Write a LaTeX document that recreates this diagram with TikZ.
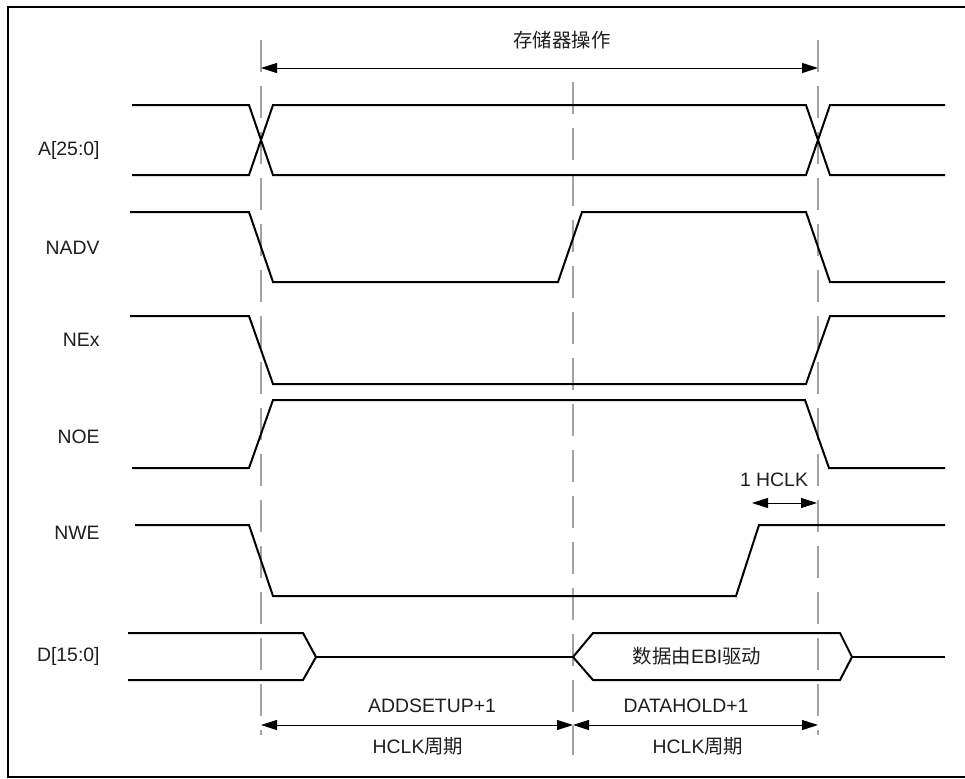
\documentclass[tikz,border=0pt]{standalone}
\usepackage{fontspec}
\setmainfont{Liberation Sans}
\newfontfamily\cjkfont{Noto Sans CJK SC}
\usepackage{tikz}
\usetikzlibrary{arrows.meta,positioning,calc}
\definecolor{gridgray}{HTML}{A3A3A3}
\definecolor{textdark}{HTML}{1E1E1E}
\tikzset{
  wave/.style={line width=1pt,black,line join=miter},
  gridline/.style={gridgray,line width=1pt,dash pattern=on 16pt off 7pt},
  dimarrow/.style={{Triangle[length=8pt,width=5pt]}-{Triangle[length=8pt,width=5pt]},line width=0.5pt},
  siglabel/.style={anchor=east,font=\fontsize{9.7}{11}\selectfont,text=textdark,inner sep=0pt},
  notelabel/.style={font=\fontsize{9.7}{11}\selectfont,text=textdark,inner sep=0pt}
}

\begin{document}
\begin{tikzpicture}[x=0.5pt,y=-0.5pt]
  \useasboundingbox (0,0) rectangle (965,778);
  \draw[line width=1.3pt] (8,7) rectangle (980,777);

  % time marks
  \coordinate (tstart) at (261,40);
  \coordinate (tstartb) at (261,735);
  \coordinate (tmid) at (573,82);
  \coordinate (tmidb) at (573,755);
  \coordinate (tend) at (818,40);
  \coordinate (tendb) at (818,735);
  \draw[gridline] (tstart) -- (tstartb);
  \draw[gridline] (tmid) -- (tmidb);
  \draw[gridline] (tend) -- (tendb);

  % memory access span
  \coordinate (opl) at (261,68);
  \coordinate (opr) at (818,68);
  \draw[dimarrow] (opl) -- (opr);
  \node[notelabel] (optext) at (562,40) {\cjkfont 存储器操作};

  % signal names
  \node[siglabel] (laddr) at (100,150) {A[25:0]};
  \node[siglabel] (lnadv) at (100,248) {NADV};
  \node[siglabel] (lnex) at (100,340) {NEx};
  \node[siglabel] (lnoe) at (100,437) {NOE};
  \node[siglabel] (lnwe) at (100,533) {NWE};
  \node[siglabel] (ldata) at (100,656) {D[15:0]};

  % A[25:0]
  \draw[wave] (132,105) -- (249,105) -- (273,175) -- (806,175) -- (830,105) -- (945,105);
  \draw[wave] (132,175) -- (249,175) -- (273,105) -- (806,105) -- (830,175) -- (945,175);
  % NADV
  \draw[wave] (130,212) -- (249,212) -- (273,282) -- (558,282) -- (582,212) -- (806,212) -- (830,282) -- (945,282);
  % NEx
  \draw[wave] (130,316) -- (249,316) -- (273,384) -- (806,384) -- (830,316) -- (945,316);
  % NOE
  \draw[wave] (132,468) -- (249,468) -- (273,400) -- (805,400) -- (829,468) -- (945,468);
  % NWE
  \draw[wave] (135,525) -- (249,525) -- (273,596) -- (736,596) -- (759,525) -- (945,525);
  % D[15:0]
  \draw[wave] (128,633) -- (303,633) -- (316,657) -- (303,680) -- (128,680);
  \draw[wave] (316,657) -- (573,657);
  \draw[wave] (573,657) -- (593,633) -- (840,633) -- (852,657) -- (840,680) -- (593,680) -- cycle;
  \draw[wave] (852,657) -- (945,657);
  \node[notelabel] (dtext) at (697,656) {{\cjkfont 数据由}EBI{\cjkfont 驱动}};

  % one clock before end
  \coordinate (hcl) at (752,503);
  \coordinate (hcr) at (817,503);
  \draw[dimarrow] (hcl) -- (hcr);
  \node[notelabel] (hctext) at (774,480) {1 HCLK};

  % setup and hold cycles
  \coordinate (cyl) at (261,725);
  \coordinate (cym) at (573,725);
  \coordinate (cyr) at (818,725);
  \draw[dimarrow] (cyl) -- (cym);
  \draw[dimarrow] (cym) -- (cyr);
  \node[notelabel] (setuptext) at (432,706) {ADDSETUP+1};
  \node[notelabel] (setupunit) at (418,746) {HCLK{\cjkfont 周期}};
  \node[notelabel] (holdtext) at (686,706) {DATAHOLD+1};
  \node[notelabel] (holdunit) at (698,746) {HCLK{\cjkfont 周期}};
\end{tikzpicture}
\end{document}
